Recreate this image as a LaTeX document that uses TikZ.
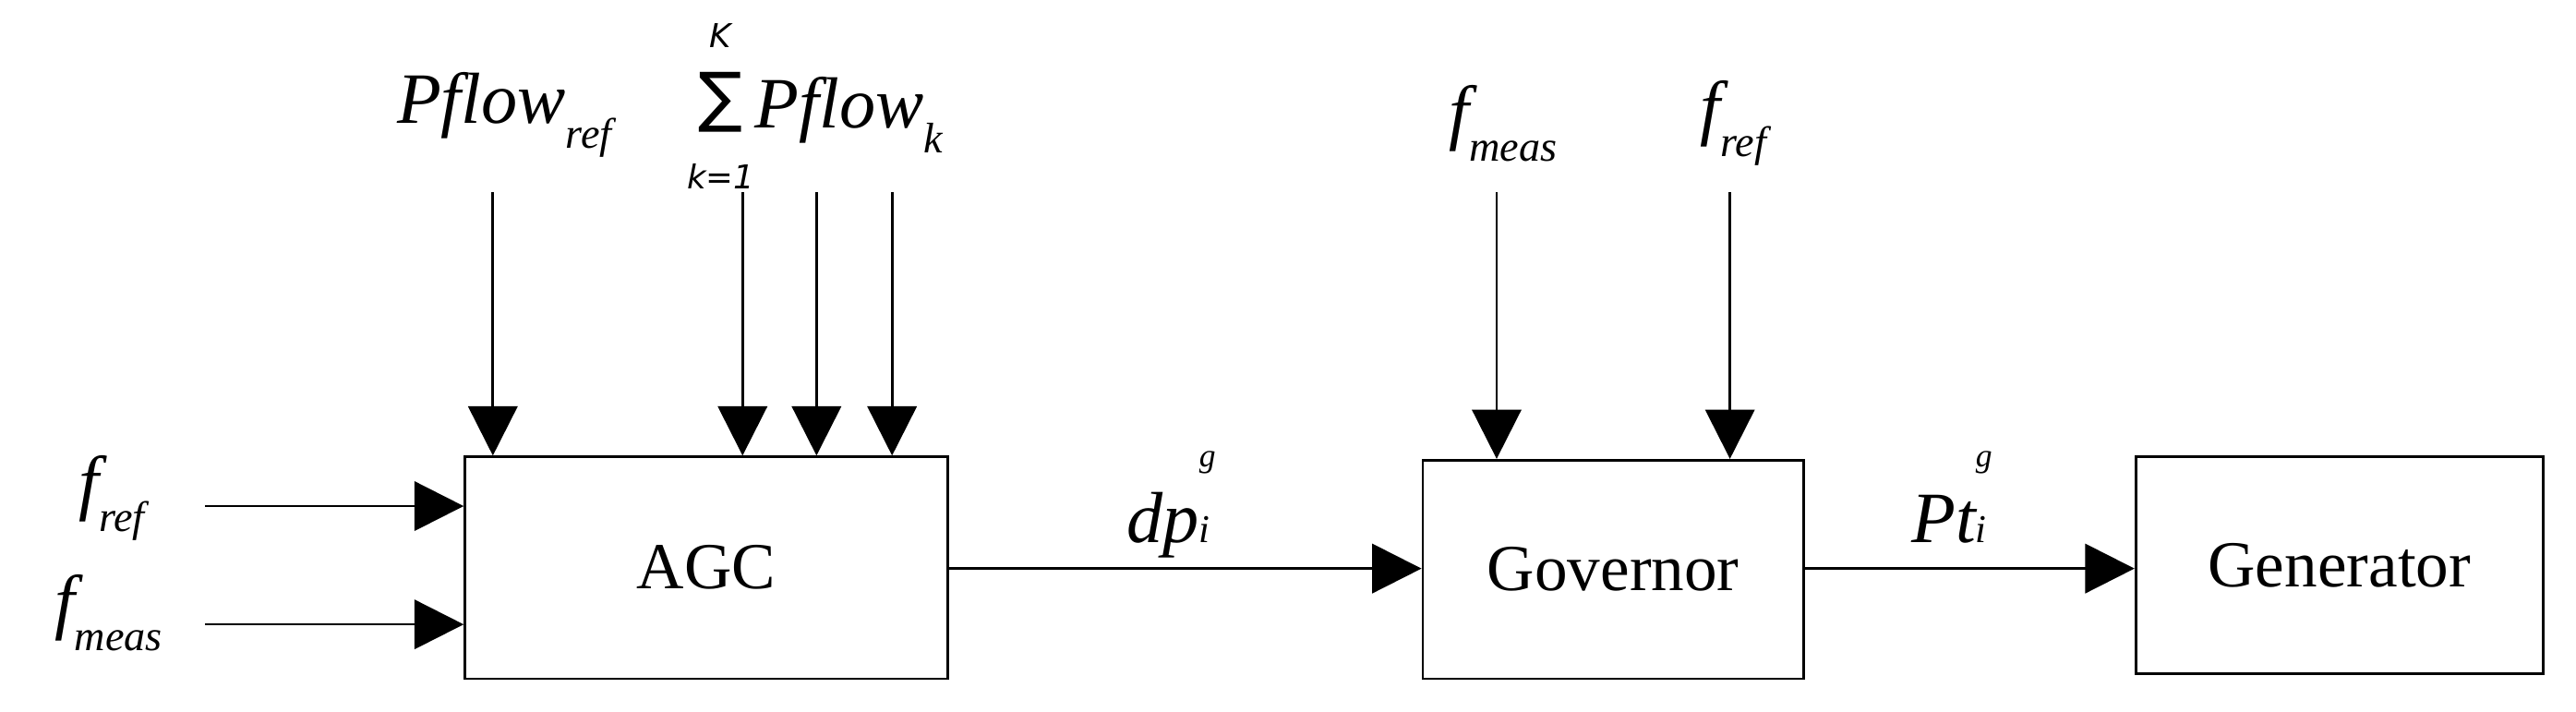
\documentclass[tikz,border=0pt]{standalone}
\usepackage{fontspec}
\setmainfont{Liberation Serif}
\newfontfamily\symf{DejaVu Sans}
\usetikzlibrary{arrows.meta}
\newcommand{\sub}[1]{\raisebox{-0.35em}{\fontsize{26}{30}\selectfont\itshape #1}}
\newcommand{\subsup}[2]{\begin{tabular}[b]{@{}l@{}}\fontsize{20}{20}\selectfont\itshape #2\\[-4pt]\fontsize{24}{24}\selectfont\itshape #1\end{tabular}}
\begin{document}
\begin{tikzpicture}[x=1pt,y=-1pt,
  box/.style={draw,line width=1.5pt,inner sep=0pt,font=\fontsize{40}{48}\selectfont},
  arr/.style={line width=1.5pt,-{Triangle[length=30pt,width=30pt]}},
  lab/.style={font=\fontsize{44}{50}\selectfont\itshape,inner sep=0pt}]
\useasboundingbox (0,0) rectangle (1568,433);
\node[box,minimum width=294pt,minimum height=135pt] (agc) at (430,345.5) {AGC};
\node[box,minimum width=232pt,minimum height=133pt] (gov) at (982,346.5) {Governor};
\node[box,minimum width=248pt,minimum height=132pt] (gen) at (1424,344) {Generator};
\coordinate (s1) at (125,308); \coordinate (s2) at (125,380);
\coordinate (t1) at (300,117); \coordinate (t2) at (452,117);
\coordinate (t3) at (497,117); \coordinate (t4) at (543,117);
\coordinate (g1) at (911,117); \coordinate (g2) at (1053,117);
\draw[arr] (s1) -- (s1 -| agc.west);
\draw[arr] (s2) -- (s2 -| agc.west);
\foreach \c in {t1,t2,t3,t4} \draw[arr] (\c) -- (\c |- agc.north);
\foreach \c in {g1,g2} \draw[arr] (\c) -- (\c |- gov.north);
\draw[arr] (agc.east |- 0,346) -- (gov.west |- 0,346);
\draw[arr] (gov.east |- 0,346) -- (gen.west |- 0,346);
\node[lab] (l1) at (307,70) {Pflow\sub{ref}};
\node[lab,anchor=west] (l2s) at (418,62) {\begin{tabular}{@{}c@{}}\fontsize{20}{20}\selectfont\symf K\\[-6pt]\fontsize{40}{40}\selectfont\symf ∑\\[-8pt]\fontsize{20}{20}\selectfont\symf k=1\end{tabular}};
\node[lab,anchor=west] (l2) at (l2s.east |- 0,70) {Pflow\sub{k}};
\node[lab] (l3) at (915,75) {f\sub{meas}};
\node[lab] (l4) at (1055,75) {f\sub{ref}};
\node[lab] (l5) at (713,297) {dp\subsup{i}{g}};
\node[lab] (l6) at (1188,297) {Pt\subsup{i}{g}};
\node[lab] (l7) at (68,303) {f\sub{ref}};
\node[lab] (l8) at (66,373) {f\sub{meas}};
\end{tikzpicture}
\end{document}
